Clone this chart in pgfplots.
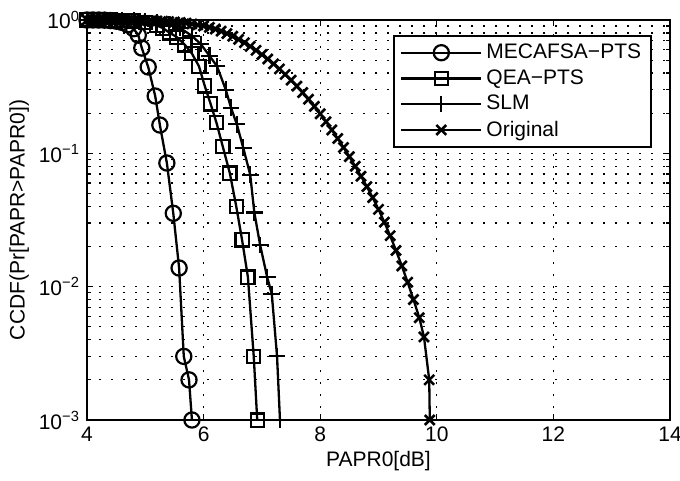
\documentclass[border=0pt]{standalone}
\usepackage{pgfplots}
\pgfplotsset{compat=1.18}
\usepackage{fontspec}
\setmainfont{Liberation Sans}

\pgfplotstableread{
x y
4.0 1.0
4.1 1.0
4.2 0.999
4.3 0.997
4.4 0.99
4.5 0.98
4.6 0.96
4.7 0.92
4.8 0.86
4.88 0.77
4.94 0.616
5.05 0.444
5.17 0.269
5.25 0.163
5.37 0.0846
5.48 0.0355
5.58 0.0138
5.66 0.003
5.75 0.002
5.80 0.001
}\mecafsa

\pgfplotstableread{
x y
4.0 1.0
4.2 1.0
4.4 0.999
4.6 0.995
4.8 0.985
5.0 0.96
5.2 0.91
5.3 0.87
5.42 0.80
5.54 0.745
5.68 0.65
5.80 0.56
5.92 0.45
6.02 0.32
6.12 0.235
6.22 0.17
6.33 0.112
6.45 0.071
6.56 0.040
6.66 0.0224
6.76 0.0118
6.86 0.003
6.92 0.001
}\qea

\pgfplotstableread{
x y
4.0 1.0
4.2 1.0
4.4 0.999
4.6 0.997
4.8 0.99
5.0 0.975
5.2 0.955
5.4 0.93
5.6 0.87
5.8 0.76
5.95 0.66
6.1 0.54
6.23 0.45
6.38 0.30
6.47 0.22
6.57 0.165
6.68 0.11
6.80 0.069
6.87 0.036
6.97 0.0205
7.09 0.0118
7.17 0.0088
7.26 0.003
7.31 0.001
}\slm

\pgfplotstableread{
x y
4.0 1.0
4.1 0.9998
4.2 0.9993
4.3 0.9988
4.4 0.9982
4.5 0.9972
4.6 0.9961
4.7 0.9947
4.8 0.9931
4.9 0.9908
5.0 0.9886
5.1 0.9858
5.2 0.9822
5.3 0.9777
5.4 0.9723
5.5 0.9660
5.6 0.9581
5.7 0.9476
5.8 0.9346
5.9 0.9192
6.0 0.9016
6.1 0.8804
6.2 0.8547
6.3 0.8246
6.4 0.7909
6.5 0.7541
6.6 0.7151
6.7 0.6750
6.8 0.6339
6.9 0.5923
7.0 0.5507
7.1 0.5093
7.2 0.4688
7.3 0.4292
7.4 0.3908
7.5 0.3540
7.6 0.3188
7.7 0.2855
7.8 0.2543
7.9 0.2251
8.0 0.1978
8.1 0.1727
8.2 0.1497
8.3 0.1291
8.4 0.1107
8.5 0.0944
8.6 0.0800
8.7 0.0674
8.8 0.0563
8.9 0.0466
9.0 0.0380
9.1 0.0305
9.2 0.0241
9.3 0.0187
9.4 0.0143
9.5 0.0108
9.6 0.0080
9.7 0.00585
9.78 0.0042
9.87 0.002
9.88 0.001
}\orig

\begin{document}
\begin{tikzpicture}
\path[use as bounding box] (-43.5pt,-30.5pt) rectangle (296.5pt,210pt);
\begin{semilogyaxis}[
  scale only axis, width=291.5pt, height=200pt,
  xmin=4, xmax=14, ymin=1e-3, ymax=1,
  xtick={4,6,8,10,12,14},
  ytick={1,0.1,0.01,0.001},
  yticklabels={10\textsuperscript{0},10\textsuperscript{−1},10\textsuperscript{−2},10\textsuperscript{−3}},
  minor ytick={0.002,0.003,0.004,0.005,0.006,0.007,0.008,0.009,0.02,0.03,0.04,0.05,0.06,0.07,0.08,0.09,0.2,0.3,0.4,0.5,0.6,0.7,0.8,0.9},
  /pgf/number format/assume math mode=true,
  font=\fontsize{10.5}{12}\selectfont,
  xlabel={PAPR0[dB]}, ylabel={CCDF(Pr[PAPR>PAPR0])},
  xlabel style={yshift=2pt},
  ylabel style={yshift=-2pt},
  axis line style={line width=1pt},
  tick style={black, line width=0.6pt},
  major tick length=3pt, minor tick length=1.8pt,
  xmajorgrids, ymajorgrids, yminorgrids,
  grid style={black, line width=0.6pt, dash pattern=on 0.8pt off 5.2pt},
  clip=false,
  every axis plot/.append style={line width=1.15pt, black},
  legend style={at={(1,1)}, anchor=north east, xshift=-9pt, yshift=-7.5pt,
    draw=black, line width=0.9pt, font=\fontsize{10.5}{12.5}\selectfont,
    inner xsep=3pt, inner ysep=2pt, row sep=0pt, cells={anchor=west}},
  legend image code/.code={\draw[mark repeat=2,mark phase=2,#1] plot coordinates {(0pt,0pt) (20pt,0pt) (40pt,0pt)};},
]
\addplot[mark=o, mark size=3.8pt, mark options={line width=1.1pt}] table[x=x,y=y] {\mecafsa};
\addlegendentry{MECAFSA−PTS}
\addplot[mark=square, mark size=3.3pt, mark options={line width=1.1pt}] table[x=x,y=y] {\qea};
\addlegendentry{QEA−PTS}
\addplot[mark=+, mark size=4.2pt, mark options={line width=1.1pt}] table[x=x,y=y] {\slm};
\addlegendentry{SLM}
\addplot[mark=x, mark size=3.5pt, mark options={line width=1.3pt}] table[x=x,y=y] {\orig};
\addlegendentry{Original}
\end{semilogyaxis}
\end{tikzpicture}
\end{document}
